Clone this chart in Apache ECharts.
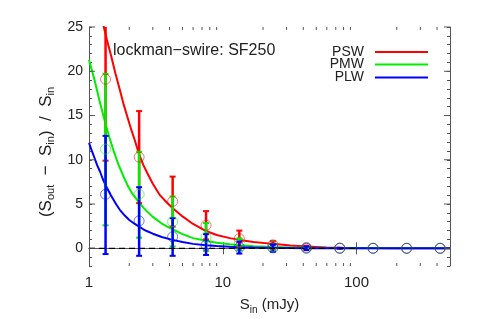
<!DOCTYPE html>
<html><head><meta charset="utf-8">
<script src="https://cdn.jsdelivr.net/npm/echarts@6/dist/echarts.min.js"></script>
<style>html,body{margin:0;padding:0;background:#fff}#c{width:478px;height:319px}</style>
</head><body><div id="c"></div>
<script>
// ---- data ----
const binS = [1.33, 2.37, 4.22, 7.50, 13.3, 23.7, 42.2, 75.0, 133, 237, 422];

const pswPoint = [19.1, 10.3, 5.3, 2.6, 1.1, 0.4, 0.1, 0.03, 0, 0, 0];
const pswLow   = [9.9, 5.1, 2.45, 1.0, 0.2, -0.1, -0.05, 0, 0, 0, 0];
const pswHigh  = [30, 15.5, 8.1, 4.2, 2.0, 0.8, 0.3, 0.05, 0, 0, 0];

const pmwPoint = [11.2, 6.1, 3.0, 1.25, 0.7, 0.2, 0.05, 0, 0, 0, 0];
const pmwLow   = [2.6, 1.2, 0.2, -0.3, -0.2, -0.1, 0, 0, 0, 0, 0];
const pmwHigh  = [19.7, 10.9, 5.85, 2.85, 1.1, 0.4, 0.15, 0, 0, 0, 0];

const plwPoint = [6.1, 3.1, 1.3, 0.35, 0.1, 0.05, 0, 0, 0, 0, 0];
const plwLow   = [-0.65, -0.85, -0.85, -0.76, -0.6, -0.38, -0.2, -0.05, 0, 0, 0];
const plwHigh  = [12.7, 6.9, 3.4, 1.6, 0.75, 0.4, 0.2, 0.05, 0, 0, 0];

const pswCurveS = [1.20, 1.29, 1.36, 1.46, 1.58, 1.70, 1.82, 1.94, 2.07, 2.20, 2.37, 2.55, 2.75, 3.00, 3.39, 3.80, 4.21, 5.00, 6.00, 7.50, 9.00, 11.3, 13.3, 17.0, 23.7, 32.0, 42.0, 60, 75, 100, 133, 200, 300, 500];
const pswCurveV = [27.0, 25.0, 23.6, 21.8, 19.7, 17.9, 16.2, 14.8, 13.4, 12.2, 10.6, 9.4, 8.4, 7.3, 6.0, 5.2, 4.55, 3.6, 2.75, 1.95, 1.5, 1.15, 0.95, 0.72, 0.50, 0.32, 0.19, 0.10, 0.07, 0.04, 0.02, 0.01, 0, 0];

const pmwCurveS = [1.00, 1.05, 1.10, 1.15, 1.20, 1.30, 1.38, 1.435, 1.52, 1.655, 1.80, 1.96, 2.10, 2.20, 2.37, 2.55, 2.70, 3.00, 3.50, 4.21, 5.00, 6.00, 7.50, 9.0, 11.3, 13.3, 17, 23.7, 32, 42, 60, 100, 200, 500];
const pmwCurveV = [21.3, 20.1, 19.0, 17.8, 16.6, 14.6, 13.2, 12.3, 11.1, 9.5, 8.2, 7.0, 6.2, 5.8, 5.15, 4.6, 4.2, 3.55, 2.8, 2.15, 1.6, 1.15, 0.85, 0.62, 0.45, 0.35, 0.24, 0.14, 0.08, 0.05, 0.02, 0.01, 0, 0];

const plwCurveS = [1.00, 1.05, 1.10, 1.15, 1.21, 1.27, 1.334, 1.45, 1.60, 1.70, 1.85, 2.00, 2.20, 2.37, 2.55, 2.70, 3.00, 3.50, 4.21, 5.00, 6.00, 7.50, 9.0, 11.3, 13.3, 17, 23.7, 32, 42, 60, 100, 500];
const plwCurveV = [11.9, 11.0, 10.2, 9.4, 8.65, 7.8, 7.1, 6.05, 4.95, 4.35, 3.7, 3.2, 2.75, 2.45, 2.15, 1.95, 1.65, 1.27, 0.95, 0.70, 0.50, 0.35, 0.25, 0.17, 0.13, 0.08, 0.045, 0.025, 0.015, 0.008, 0, 0];

const zeroLineS = [1, 100];
const xMinorTicks = [2, 3, 4, 5, 6, 7, 8, 9, 20, 30, 40, 50, 60, 70, 80, 90, 200, 300, 400];
const yMajorTicks = [0, 5, 10, 15, 20, 25];
const yTickLabels = [0, 5, 10, 15, 20, 25];
const xTickLabels = [1, 10, 100];
const xMin = 1, xMax = 500, yMin = -2, yMax = 25;

// ---- styling ----
const FONT = 'Liberation Sans';
const TXT = '#222';
const AX = '#555';
const RED = '#ff0000', GREEN = '#00ee00', BLUE = '#0000ff';

const zip = (a, b) => a.map((v, i) => [v, b[i]]);
const bars = (lo, hi) => binS.map((s, i) => [s, lo[i], hi[i]]).filter(d => d[2] > d[1]);

function barRender(color) {
  return function (params, api) {
    const x = api.value(0), lo = api.value(1), hi = api.value(2);
    const a = api.coord([x, lo]), b = api.coord([x, hi]);
    const c = 3;
    return { type: 'group', children: [
      { type: 'line', shape: { x1: a[0], y1: a[1], x2: b[0], y2: b[1] }, style: { stroke: color, lineWidth: 2.5 } },
      { type: 'line', shape: { x1: a[0] - c, y1: a[1], x2: a[0] + c, y2: a[1] }, style: { stroke: color, lineWidth: 2 } },
      { type: 'line', shape: { x1: b[0] - c, y1: b[1], x2: b[0] + c, y2: b[1] }, style: { stroke: color, lineWidth: 2 } }
    ]};
  };
}

function xTickRender(params, api) {
  const v = api.value(0);
  const b = api.coord([v, yMin]), t = api.coord([v, yMax]);
  return { type: 'group', children: [
    { type: 'line', shape: { x1: b[0], y1: b[1], x2: b[0], y2: b[1] - 3 }, style: { stroke: AX, lineWidth: 1 } },
    { type: 'line', shape: { x1: t[0], y1: t[1], x2: t[0], y2: t[1] + 3 }, style: { stroke: AX, lineWidth: 1 } }
  ]};
}
function yTickRender(params, api) {
  const v = api.value(1);
  const l = api.coord([xMin, v]), r = api.coord([xMax, v]);
  return { type: 'group', children: [
    { type: 'line', shape: { x1: l[0], y1: l[1], x2: l[0] + 6, y2: l[1] }, style: { stroke: AX, lineWidth: 1 } },
    { type: 'line', shape: { x1: r[0], y1: r[1], x2: r[0] - 6, y2: r[1] }, style: { stroke: AX, lineWidth: 1 } }
  ]};
}

function curve(name, S, V, color) {
  return { name, type: 'line', data: zip(S, V), showSymbol: false, symbol: 'none', smooth: false,
    lineStyle: { color, width: 2 }, itemStyle: { color }, clip: true, z: 3, silent: true };
}
function circles(points, color) {
  return { type: 'scatter', data: zip(binS, points), symbol: 'circle', symbolSize: 10,
    itemStyle: { color: 'rgba(0,0,0,0)', borderColor: color, borderWidth: 1, opacity: 0.55 }, z: 6, silent: true };
}
function barSeries(lo, hi, color) {
  return { type: 'custom', data: bars(lo, hi), renderItem: barRender(color), clip: true, z: 4, silent: true,
    encode: { x: 0, y: [1, 2] } };
}

const axisLineStyle = { show: true, lineStyle: { color: AX, width: 1 } };

const legendBase = (name, top) => ({
  data: [{ name, icon: 'path://M0,0 L53,0 L53,2 L0,2 Z' }], orient: 'vertical', right: 45, top, align: 'right',
  itemWidth: 53, itemHeight: 2.2,
  textStyle: { fontFamily: FONT, fontSize: 14, color: TXT, padding: [0, 6, 0, 0] }, selectedMode: false
});

const chart = echarts.init(document.getElementById('c'), null, { renderer: 'canvas' });
chart.setOption({
  backgroundColor: '#fff',
  animation: false,
  title: { text: 'lockman\u2212swire: SF250', left: 108, top: 38,
    textStyle: { fontFamily: FONT, fontSize: 16, fontWeight: 'normal', color: TXT } },
  legend: [legendBase('PSW', 40), legendBase('PMW', 52.5), legendBase('PLW', 65.5)],
  grid: { left: 89, right: 28, top: 27, bottom: 53, containLabel: false, outerBoundsMode: 'none' },
  xAxis: [
    { type: 'log', logBase: 10, min: xMin, max: xMax, position: 'bottom',
      axisLine: axisLineStyle, axisTick: { inside: true, length: 6, lineStyle: { color: AX } },
      splitLine: { show: false },
      axisLabel: { fontFamily: FONT, fontSize: 15, color: TXT, margin: 9, showMaxLabel: false,
        formatter: v => (xTickLabels.some(t => Math.abs(t - v) < 1e-6 * t) ? String(Math.round(v)) : '') },
      name: 'S{sub|in} (mJy)', nameLocation: 'middle', nameGap: 15,
      nameTextStyle: { fontFamily: FONT, fontSize: 15, color: TXT, lineHeight: 20,
        rich: { sub: { fontFamily: FONT, fontSize: 10, color: TXT, lineHeight: 10, verticalAlign: 'bottom' } } } },
    { type: 'log', logBase: 10, min: xMin, max: xMax, position: 'top',
      axisLine: axisLineStyle, axisTick: { inside: true, length: 6, lineStyle: { color: AX } },
      splitLine: { show: false }, axisLabel: { show: false } }
  ],
  yAxis: [
    { type: 'value', min: yMin, max: yMax, interval: 1, position: 'left',
      axisLine: axisLineStyle, axisTick: { inside: true, length: 3, lineStyle: { color: AX } },
      splitLine: { show: false },
      axisLabel: { fontFamily: FONT, fontSize: 14, color: TXT, margin: 6,
        formatter: v => (yTickLabels.includes(v) ? String(v) : '') },
      name: '(S{sub|out}  \u2212  S{sub|in})  /  S{sub|in}', nameLocation: 'middle', nameGap: 28,
      nameTextStyle: { fontFamily: FONT, fontSize: 17, color: TXT, lineHeight: 20, padding: [0, 11, 0, 0],
        rich: { sub: { fontFamily: FONT, fontSize: 11, color: TXT, lineHeight: 10, verticalAlign: 'bottom' } } } },
    { type: 'value', min: yMin, max: yMax, interval: 1, position: 'right',
      axisLine: axisLineStyle, axisTick: { inside: true, length: 3, lineStyle: { color: AX } },
      splitLine: { show: false }, axisLabel: { show: false } }
  ],
  series: [
    curve('PSW', pswCurveS, pswCurveV, RED),
    curve('PMW', pmwCurveS, pmwCurveV, GREEN),
    curve('PLW', plwCurveS, plwCurveV, BLUE),
    { type: 'line', data: zeroLineS.map(s => [s, 0]), showSymbol: false, symbol: 'none',
      lineStyle: { color: '#000', width: 1.3, type: [6, 4] }, z: 5, silent: true },
    barSeries(pswLow, pswHigh, RED),
    barSeries(pmwLow, pmwHigh, GREEN),
    barSeries(plwLow, plwHigh, BLUE),
    circles(pswPoint, RED),
    circles(pmwPoint, GREEN),
    circles(plwPoint, BLUE),
    { type: 'custom', data: xMinorTicks.map(v => [v, 0]), renderItem: xTickRender, z: 10, silent: true },
    { type: 'custom', data: yMajorTicks.map(v => [1, v]), renderItem: yTickRender, z: 10, silent: true }
  ]
});
</script></body></html>
